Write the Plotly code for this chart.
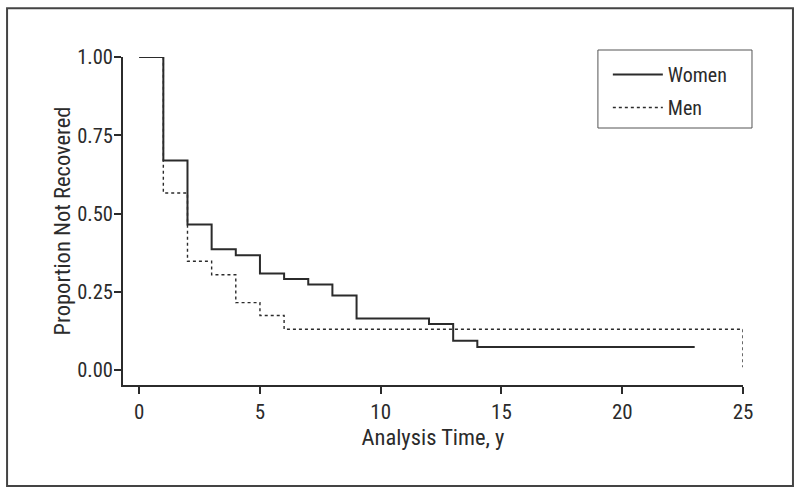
import plotly.graph_objects as go

# Women step data (time, proportion not recovered)
women_t = [0, 1, 2, 3, 4, 5, 6, 7, 8, 9, 12, 13, 14, 23]
women_s = [1.00, 0.670, 0.465, 0.386, 0.367, 0.309, 0.291, 0.274, 0.239, 0.165, 0.148, 0.094, 0.074, 0.074]

# Men step data
men_t = [0, 1, 2, 3, 4, 5, 6, 25, 25]
men_s = [1.00, 0.566, 0.348, 0.305, 0.216, 0.175, 0.131, 0.131, 0.01]

x_ticks = [0, 5, 10, 15, 20, 25]
y_ticks = [0.0, 0.25, 0.50, 0.75, 1.00]
y_tick_labels = ["0.00", "0.25", "0.50", "0.75", "1.00"]

FONT = "Roboto Condensed, Liberation Sans, sans-serif"
INK = "#2b2b2b"

fig = go.Figure()
fig.add_trace(go.Scatter(x=men_t, y=men_s, mode="lines", name="Men", legendgroup="m",
                         legendrank=2,
                         line=dict(shape="hv", color=INK, width=1.4, dash="3px,3px"),
                         cliponaxis=False))
fig.add_trace(go.Scatter(x=women_t, y=women_s, mode="lines", name="Women", legendgroup="w",
                         legendrank=1,
                         line=dict(shape="hv", color=INK, width=2),
                         cliponaxis=False))

fig.update_layout(
    width=800, height=494,
    margin=dict(l=123, r=57, t=57, b=109),
    paper_bgcolor="white", plot_bgcolor="white",
    font=dict(family=FONT, size=22, color=INK),
    showlegend=True,
    legend=dict(x=0.782, y=1.006, xanchor="left", yanchor="top",
                borderwidth=0, bgcolor="rgba(0,0,0,0)",
                traceorder="grouped", font=dict(size=20),
                itemwidth=50, tracegroupgap=4),
    xaxis=dict(range=[-0.67, 25.0], tickvals=x_ticks, showgrid=False, zeroline=False,
               showline=True, linecolor=INK, linewidth=2,
               ticks="outside", ticklen=7, tickwidth=2, tickcolor=INK,
               tickfont=dict(size=21),
               title=dict(text="Analysis Time, y", standoff=5, font=dict(size=22.5))),
    yaxis=dict(range=[-0.047, 1.0], tickvals=y_ticks, ticktext=y_tick_labels,
               showgrid=False, zeroline=False,
               showline=True, linecolor=INK, linewidth=2,
               ticks="outside", ticklen=7, tickwidth=2, tickcolor=INK,
               tickfont=dict(size=20.5), ticklabelstandoff=-3,
               title=dict(text="Proportion Not Recovered", standoff=0, font=dict(size=22.5))),
    shapes=[
        # outer frame
        dict(type="rect", xref="paper", yref="paper",
             x0=-0.187, x1=1.0806, y0=-0.308, y1=1.149,
             line=dict(color="#444", width=2), fillcolor="rgba(0,0,0,0)"),
        # legend box
        dict(type="rect", xref="paper", yref="paper",
             x0=0.766, x1=1.0145, y0=0.7835, y1=1.0213,
             line=dict(color="#555", width=1), fillcolor="rgba(0,0,0,0)"),
    ],
)

fig.write_html("out.html", config={"displayModeBar": False},
               post_script="document.body.style.margin='0px';")
